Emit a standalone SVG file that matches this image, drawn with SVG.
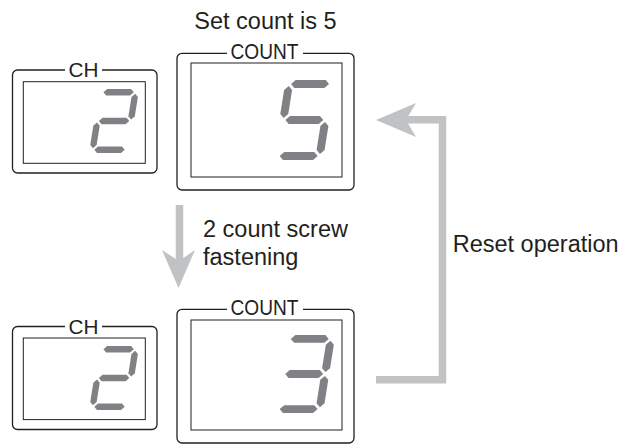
<svg xmlns="http://www.w3.org/2000/svg" width="634" height="445" viewBox="0 0 634 445">
<style>
.outer{fill:none;stroke:#231f20;stroke-width:1.3}
.inner{fill:none;stroke:#231f20;stroke-width:1}
.gap{fill:#fff;stroke:none}
.lbl{font-family:"Liberation Sans",Arial,sans-serif;fill:#231f20;font-size:23.5px}
.tag{font-family:"Liberation Sans",Arial,sans-serif;fill:#231f20;font-size:21px;text-anchor:middle}
.tagc{font-size:22px}
.seg{fill:#808184}
.conn{fill:none;stroke:#c1c2c4;stroke-width:7.5}
.head{fill:#c1c2c4}
</style>
<defs>
<polygon id="sa" points="6,-76 10,-80 40,-80 44,-76 40,-72 10,-72"/>
<polygon id="sg" points="6,-40 10,-44 40,-44 44,-40 40,-36 10,-36"/>
<polygon id="sd" points="6,-4 10,-8 40,-8 44,-4 40,0 10,0"/>
<polygon id="sf" points="4,-74 8,-70 8,-46 4,-42 0,-46 0,-70"/>
<polygon id="sb" points="46,-74 50,-70 50,-46 46,-42 42,-46 42,-70"/>
<polygon id="se" points="4,-38 8,-34 8,-10 4,-6 0,-10 0,-34"/>
<polygon id="sc" points="46,-38 50,-34 50,-10 46,-6 42,-10 42,-34"/>
<g id="d2" class="seg"><use href="#sa"/><use href="#sb"/><use href="#sg"/><use href="#se"/><use href="#sd"/></g>
<g id="d5" class="seg"><use href="#sa"/><use href="#sf"/><use href="#sg"/><use href="#sc"/><use href="#sd"/></g>
<g id="d3" class="seg"><use href="#sa"/><use href="#sb"/><use href="#sg"/><use href="#sc"/><use href="#sd"/></g>
</defs>
<rect width="634" height="445" fill="#fff"/>

<text class="lbl" x="265.5" y="29" text-anchor="middle">Set count is 5</text>

<g id="ch-top">
<rect class="outer" x="12.5" y="70" width="144.5" height="103" rx="5"/>
<rect class="gap" x="65" y="66" width="37" height="8"/>
<text class="tag" x="83.5" y="77" textLength="30" lengthAdjust="spacingAndGlyphs">CH</text>
<rect class="inner" x="23.3" y="81.7" width="122" height="81.6"/>
<use href="#d2" transform="translate(89,153) skewX(-9) scale(0.8)"/>
</g>

<g id="count-top">
<rect class="outer" x="177" y="53.3" width="177" height="136.7" rx="5"/>
<rect class="gap" x="227" y="48" width="76" height="10"/>
<text class="tag tagc" x="264.5" y="59" textLength="68" lengthAdjust="spacingAndGlyphs">COUNT</text>
<rect class="inner" x="191" y="63" width="151" height="114"/>
<use href="#d5" transform="translate(273,160) skewX(-9)"/>
</g>

<g id="ch-bottom">
<rect class="outer" x="12.5" y="326.5" width="144.5" height="103" rx="5"/>
<rect class="gap" x="65" y="322" width="37" height="8"/>
<text class="tag" x="83.5" y="333.5" textLength="30" lengthAdjust="spacingAndGlyphs">CH</text>
<rect class="inner" x="23.3" y="338" width="122" height="81.6"/>
<use href="#d2" transform="translate(89,410) skewX(-9) scale(0.8)"/>
</g>

<g id="count-bottom">
<rect class="outer" x="177" y="309.3" width="177" height="133.7" rx="5"/>
<rect class="gap" x="227" y="304" width="76" height="10"/>
<text class="tag tagc" x="264.5" y="314.5" textLength="68" lengthAdjust="spacingAndGlyphs">COUNT</text>
<rect class="inner" x="191" y="320" width="151" height="110"/>
<use href="#d3" transform="translate(273,413) skewX(-9) scale(1,0.975)"/>
</g>

<g id="connectors">
<line class="conn" x1="179.5" y1="205" x2="179.5" y2="262"/>
<polygon class="head" points="178.5,288 162,250 179,261 195,250"/>
<text class="lbl" x="203" y="236.5">2 count screw</text>
<text class="lbl" x="203" y="265">fastening</text>

<polyline class="conn" points="376,379.7 442.5,379.7 442.5,119.7 405,119.7"/>
<polygon class="head" points="376,120 416,103 406,120 416,137"/>
<text class="lbl" x="452.7" y="251.7">Reset operation</text>
</g>
</svg>
